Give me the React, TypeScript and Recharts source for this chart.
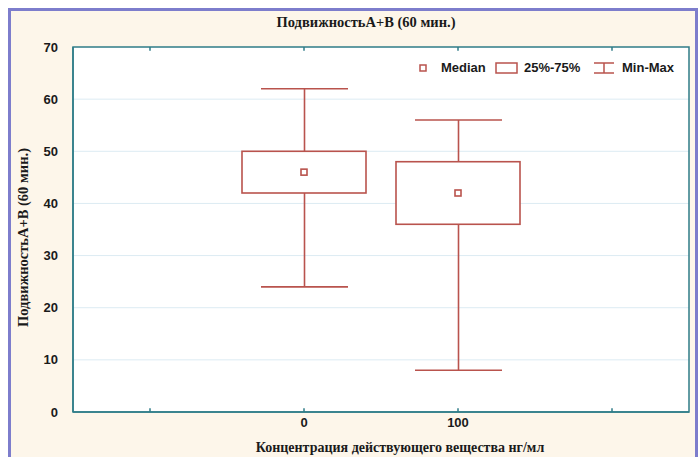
import { Bar, ComposedChart, XAxis, YAxis, CartesianGrid, Scatter, ReferenceLine, ReferenceArea } from "recharts"

// categories on the x axis (outer two are empty padding slots)
const categories = ["l", "0", "100", "r"]
const mins = [null, 24, 8, null]
const q1s = [null, 42, 36, null]
const medians = [null, 46, 42, null]
const q3s = [null, 50, 48, null]
const maxs = [null, 62, 56, null]
const yTicks = [0, 10, 20, 30, 40, 50, 60, 70]
const innerTicks = yTicks.slice(1, -1)

const RED = "#b9534d"
const TEAL = "#2f7c88"
const SERIF = "'Liberation Serif', 'Times New Roman', serif"

const data = categories.map((cat, i) => ({
  cat,
  whisker: mins[i] == null ? null : [mins[i], maxs[i]],
  box: q1s[i] == null ? null : [q1s[i], q3s[i]],
  median: medians[i],
}))

const fmtCat = (v: string) => (v === "l" || v === "r" ? "" : v)

const WhiskerShape = (props: any) => {
  const { x, y, width, height } = props
  if (height == null || isNaN(y)) return <g />
  const cx = x + width / 2
  return (
    <g stroke={RED} strokeWidth={1.6}>
      <line x1={cx} x2={cx} y1={y} y2={y + height} />
      <line x1={x} x2={x + width} y1={y} y2={y} />
      <line x1={x} x2={x + width} y1={y + height} y2={y + height} />
    </g>
  )
}

const BoxShape = (props: any) => {
  const { x, y, width, height } = props
  if (height == null || isNaN(y)) return <g />
  return <rect x={x} y={y} width={width} height={height} fill="#fff" stroke={RED} strokeWidth={1.6} />
}

const MedianShape = (props: any) => {
  const { cx, cy } = props
  if (cx == null || cy == null || isNaN(cy)) return <g />
  return <rect x={cx - 3} y={cy - 3} width={6} height={6} fill="#fff" stroke={RED} strokeWidth={1.6} />
}

const YLabel = (props: any) => {
  const vb = props.viewBox
  const cy = vb.y + vb.height / 2 + 8
  return (
    <text
      x={23}
      y={cy}
      transform={`rotate(-90 23 ${cy})`}
      textAnchor="middle"
      dominantBaseline="central"
      fill="#1a1a1a"
      fontSize={14.5}
      fontWeight="bold"
      fontFamily={SERIF}
    >
      ПодвижностьA+B (60 мин.)
    </text>
  )
}

const legendText: React.CSSProperties = {
  position: "absolute",
  top: 60,
  font: "bold 13px 'Liberation Sans', Arial, sans-serif",
  color: "#1a1a1a",
  lineHeight: "16px",
}

const frame = { stroke: TEAL, strokeWidth: 1.5, ifOverflow: "visible" as const }

export default function App() {
  return (
    <div style={{ position: "absolute", left: 0, top: 0, width: 699, height: 457, background: "#fff", overflow: "hidden" }}>
      <div
        style={{
          position: "absolute",
          left: 8,
          top: 8,
          width: 684,
          height: 460,
          background: "#fdf6ea",
          borderLeft: "3px solid #7d7dcc",
          borderTop: "3px solid #7d7dcc",
          borderRight: "3px solid #7d7dcc",
        }}
      />
      <div
        style={{
          position: "absolute",
          left: 0,
          width: 732,
          top: 14,
          textAlign: "center",
          font: `bold 14.5px ${SERIF}`,
          color: "#1a1a1a",
        }}
      >
        ПодвижностьA+B (60 мин.)
      </div>
      <div style={{ position: "absolute", left: 0, top: 0 }}>
        <ComposedChart width={699} height={457} data={data} margin={{ top: 47, left: 13, right: 10, bottom: 5 }}>
          <CartesianGrid
            yAxisId="y"
            xAxisId="a"
            vertical={false}
            stroke="#dcebf3"
            fill="#fff"
            horizontalValues={innerTicks}
          />
          <XAxis
            xAxisId="a"
            dataKey="cat"
            height={40}
            allowDuplicatedCategory={false}
            tickFormatter={fmtCat}
            tickLine={false}
            tickSize={0}
            tickMargin={6}
            stroke={TEAL}
            strokeWidth={1.5}
            tick={{ fill: "#1a1a1a", fontSize: 13, fontWeight: "bold", fontFamily: "'Liberation Sans', Arial" }}
            label={{
              value: "Концентрация действующего вещества нг/мл",
              position: "insideBottom",
              offset: 0,
              dx: 19,
              fill: "#1a1a1a",
              fontSize: 14,
              fontWeight: "bold",
              fontFamily: SERIF,
            }}
          />
          <XAxis xAxisId="b" dataKey="cat" hide allowDuplicatedCategory={false} />
          <YAxis
            yAxisId="y"
            domain={[0, 70]}
            ticks={yTicks}
            width={60}
            tickLine={false}
            tickSize={0}
            tickMargin={15}
            stroke={TEAL}
            strokeWidth={1.5}
            tick={{ fill: "#1a1a1a", fontSize: 13, fontWeight: "bold", fontFamily: "'Liberation Sans', Arial" }}
            label={<YLabel />}
          />
          {/* plot frame */}
          <ReferenceArea xAxisId="a" yAxisId="y" x1="l" x2="r" y1={0} y2={70} fill="none" fillOpacity={0} {...frame} />
          {/* small inward ticks on top and bottom edges */}
          {categories.map((c) => (
            <ReferenceLine key={"t" + c} xAxisId="a" yAxisId="y" segment={[{ x: c, y: 70 }, { x: c, y: 69.3 }]} {...frame} />
          ))}
          {categories.map((c) => (
            <ReferenceLine key={"b" + c} xAxisId="a" yAxisId="y" segment={[{ x: c, y: 0 }, { x: c, y: 0.7 }]} {...frame} />
          ))}
          <Bar xAxisId="b" yAxisId="y" dataKey="whisker" barSize={87} shape={WhiskerShape} isAnimationActive={false} />
          <Bar xAxisId="a" yAxisId="y" dataKey="box" barSize={124} shape={BoxShape} isAnimationActive={false} />
          <Scatter xAxisId="a" yAxisId="y" dataKey="median" shape={MedianShape} isAnimationActive={false} />
        </ComposedChart>
      </div>
      {/* legend */}
      <svg style={{ position: "absolute", left: 418, top: 60 }} width={200} height={16}>
        <rect x={2} y={5} width={6} height={6} fill="#fff" stroke={RED} strokeWidth={1.5} />
        <rect x={78} y={3} width={21} height={10} fill="#fff" stroke={RED} strokeWidth={1.5} />
        <g stroke={RED} strokeWidth={1.5}>
          <line x1={176} x2={196} y1={3} y2={3} />
          <line x1={176} x2={196} y1={13} y2={13} />
          <line x1={186} x2={186} y1={3} y2={13} />
        </g>
      </svg>
      <div style={{ ...legendText, left: 441 }}>Median</div>
      <div style={{ ...legendText, left: 524 }}>25%-75%</div>
      <div style={{ ...legendText, left: 622 }}>Min-Max</div>
    </div>
  )
}
